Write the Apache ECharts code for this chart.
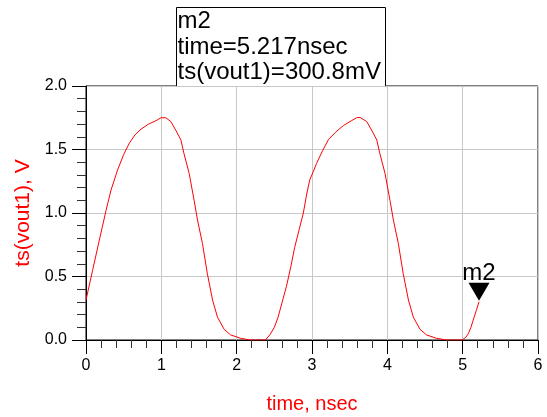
<!DOCTYPE html>
<html>
<head>
<meta charset="utf-8">
<script src="https://cdn.jsdelivr.net/npm/echarts@6/dist/echarts.min.js"></script>
<style>html,body{margin:0;padding:0;background:#fff;}#c{width:547px;height:417px;}</style>
</head>
<body>
<div id="c"></div>
<script>
// time (nsec)
var timeNs = [0, 0.088, 0.177, 0.266, 0.332, 0.42, 0.50, 0.575, 0.65, 0.73, 0.83, 0.93, 0.996, 1.06, 1.126, 1.19, 1.26, 1.30, 1.37, 1.435, 1.48, 1.546, 1.61, 1.68, 1.745, 1.834, 1.92, 2.055, 2.18, 2.38, 2.44, 2.50, 2.55, 2.60, 2.66, 2.72, 2.77, 2.83, 2.885, 2.93, 2.97, 3.02, 3.06, 3.14, 3.22, 3.32, 3.42, 3.52, 3.59, 3.637, 3.726, 3.79, 3.86, 3.90, 3.97, 4.035, 4.08, 4.146, 4.21, 4.28, 4.345, 4.434, 4.52, 4.655, 4.79, 4.99, 5.04, 5.075, 5.11, 5.14, 5.18, 5.217];
// ts(vout1) (V)
var vout1 = [0.315, 0.55, 0.787, 1.02, 1.18, 1.34, 1.46, 1.55, 1.615, 1.66, 1.70, 1.727, 1.75, 1.75, 1.72, 1.654, 1.575, 1.47, 1.31, 1.10, 0.945, 0.76, 0.525, 0.315, 0.18, 0.084, 0.04, 0.013, 0, 0, 0.04, 0.10, 0.18, 0.29, 0.42, 0.58, 0.73, 0.87, 1.0, 1.15, 1.26, 1.33, 1.39, 1.49, 1.58, 1.64, 1.69, 1.725, 1.75, 1.753, 1.72, 1.654, 1.575, 1.47, 1.31, 1.10, 0.945, 0.76, 0.525, 0.315, 0.18, 0.084, 0.04, 0.013, 0, 0, 0.02, 0.05, 0.10, 0.157, 0.23, 0.3008];
// marker
var markerName = 'm2';
var markerTime = 5.217;
var markerValue = 0.3008;
var markerLines = ['m2', 'time=5.217nsec', 'ts(vout1)=300.8mV'];
var xTicks = [0, 1, 2, 3, 4, 5, 6];
var yTicks = [0.0, 0.5, 1.0, 1.5, 2.0];

var data = timeNs.map(function (t, i) { return [t, vout1[i]]; });
var font = 'Liberation Sans, Arial, sans-serif';

var chart = echarts.init(document.getElementById('c'), null, {renderer: 'canvas'});
chart.setOption({
  animation: false,
  backgroundColor: '#fff',
  grid: {left: 86, top: 86, right: 9, bottom: 77, outerBoundsMode: 'none', show: true, borderColor: '#000', borderWidth: 1},
  xAxis: {
    type: 'value', min: xTicks[0], max: xTicks[xTicks.length - 1], interval: 1,
    name: 'time, nsec', nameLocation: 'middle', nameGap: 54,
    nameTextStyle: {color: '#ff0000', fontSize: 20, fontFamily: font},
    axisLine: {show: true, onZero: false, lineStyle: {color: '#000', width: 1}},
    axisTick: {show: true, length: 14, lineStyle: {color: '#000', width: 1}},
    minorTick: {show: true, splitNumber: 5, length: 8, lineStyle: {color: '#333', width: 1}},
    axisLabel: {color: '#000', fontSize: 16, fontFamily: font, margin: 18, showMinLabel: true, showMaxLabel: true},
    splitLine: {show: true, lineStyle: {color: '#c8c8c8', width: 1}}
  },
  yAxis: {
    type: 'value', min: yTicks[0], max: yTicks[yTicks.length - 1], interval: 0.5,
    name: 'ts(vout1), V', nameLocation: 'middle', nameGap: 45,
    nameTextStyle: {color: '#ff0000', fontSize: 21, fontFamily: font},
    axisLine: {show: true, onZero: false, lineStyle: {color: '#000', width: 1}},
    axisTick: {show: true, length: 14, lineStyle: {color: '#000', width: 1}},
    minorTick: {show: true, splitNumber: 5, length: 9, lineStyle: {color: '#333', width: 1}},
    axisLabel: {color: '#000', fontSize: 16, fontFamily: font, margin: 19,
      formatter: function (v) { return v.toFixed(1); }},
    splitLine: {show: true, lineStyle: {color: '#c8c8c8', width: 1}}
  },
  series: [{
    type: 'line', data: data, showSymbol: false, symbol: 'none',
    lineStyle: {color: '#ff0000', width: 1},
    markPoint: {
      symbol: 'triangle', symbolRotate: 180, symbolSize: [21, 18], symbolOffset: [0, -10],
      itemStyle: {color: '#000'},
      label: {show: true, position: 'top', distance: -3, color: '#000', fontSize: 24, fontFamily: font,
        formatter: function () { return markerName; }},
      data: [{coord: [markerTime, markerValue]}]
    }
  }],
  graphic: [{
    type: 'group', left: 176, top: 7,
    children: [
      {type: 'rect', shape: {x: 0, y: 0, width: 209, height: 79}, style: {fill: '#fff', stroke: '#000', lineWidth: 1}},
      {type: 'text', x: 1, y: 1.5, style: {text: markerLines.join('\n'), fontSize: 24, lineHeight: 25.5, fontFamily: font, fill: '#000'}}
    ]
  }]
});
</script>
</body>
</html>
